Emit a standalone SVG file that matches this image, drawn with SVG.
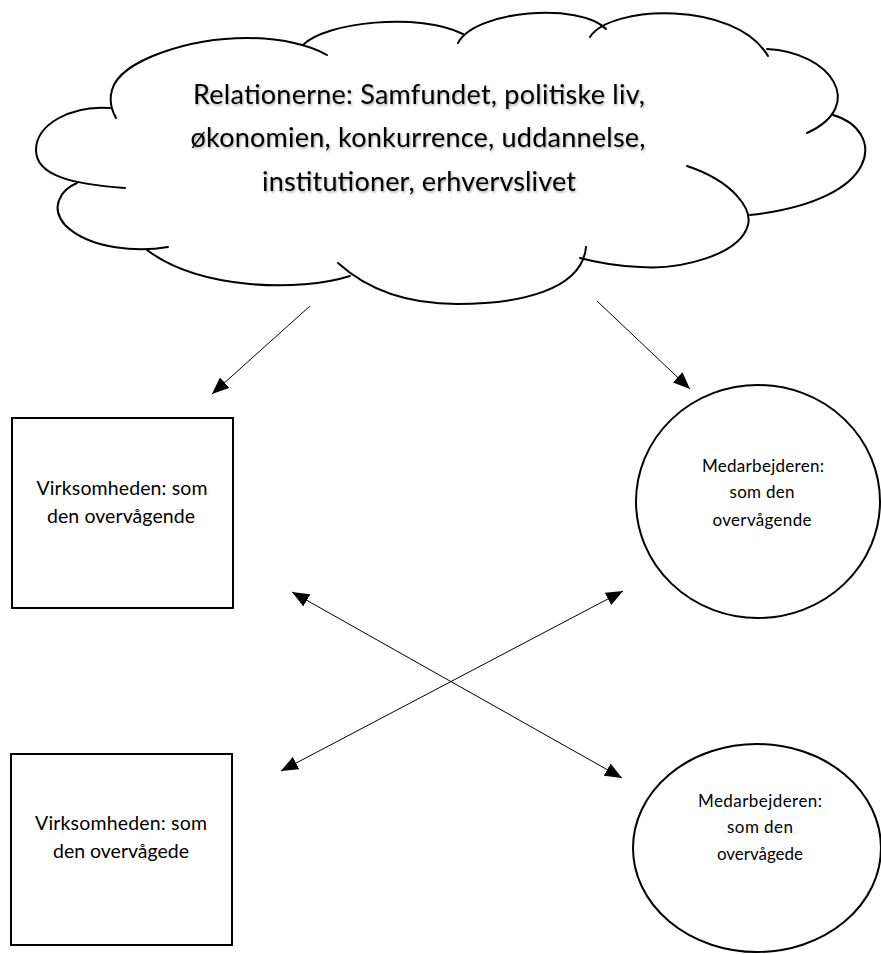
<svg xmlns="http://www.w3.org/2000/svg" width="881" height="954" viewBox="0 0 881 954">
<style>
.shape{fill:#fff;stroke:#000;stroke-width:2}
.lobe{fill:none;stroke:#000;stroke-width:2;stroke-linecap:round}
.conn{fill:none;stroke:#000;stroke-width:1}
.t{font-family:Lato,"Open Sans","Liberation Sans",sans-serif;fill:#000;text-anchor:middle}
.big{font-size:27px}
.mid{font-size:19.5px}
.sm{font-size:17px}
</style>
<defs>
<marker id="ah" viewBox="0 0 17 14" refX="17" refY="7" markerWidth="17" markerHeight="14" markerUnits="userSpaceOnUse" orient="auto-start-reverse">
<path d="M0,0 L17,7 L0,14 Z" fill="#000"/>
</marker>
<filter id="shadow" x="-10%" y="-30%" width="120%" height="160%">
<feDropShadow dx="1" dy="1.5" stdDeviation="1.2" flood-color="#000" flood-opacity="0.35"/>
</filter>
</defs>

<g id="cloud">
<path fill="#fff" stroke="none" d="M112,108 C120,60 190,38 247,38 C275,38 295,42 305,45 C325,22 420,12 463,35 C475,10 580,2 606,29 C610,5 735,0 767,49 C830,52 868,105 833,115 C885,130 885,200 750,215 C752,245 700,268 640,267 L586,262 C582,290 520,304 457,304 C410,304 370,292 350,276 C300,292 200,290 147,250 C120,252 80,250 65,225 C50,208 60,190 78,183 C50,178 36,170 36,150 C36,125 70,105 112,108 Z"/>
<path class="lobe" d="M116,118 Q108,104 112,90 C120,60 190,38 247,38 C280,38 310,45 327,55"/>
<path class="lobe" d="M303,45 C325,22 420,12 463,34"/>
<path class="lobe" d="M458,43 C475,10 580,2 606,29"/>
<path class="lobe" d="M590,37 C610,5 735,0 768,56"/>
<path class="lobe" d="M767,49 C830,52 868,105 807,133"/>
<path class="lobe" d="M833,115 C885,130 885,200 750,215"/>
<path class="lobe" d="M687,166 C735,182 752,210 748,225 C740,255 680,270 640,267 C615,266 595,262 580,258"/>
<path class="lobe" d="M586,247 C582,290 520,304 457,304 C410,304 370,292 338,263"/>
<path class="lobe" d="M350,276 C300,292 200,290 147,250"/>
<path class="lobe" d="M168,247 C140,252 90,250 65,225 C50,208 60,190 77,183"/>
<path class="lobe" d="M125,188 C70,184 36,175 36,150 C36,125 70,105 110,108"/>
<g filter="url(#shadow)">
<text class="t big" x="419" y="104" textLength="452">Relationerne: Samfundet, politiske liv,</text>
<text class="t big" x="418" y="147" textLength="455">økonomien, konkurrence, uddannelse,</text>
<text class="t big" x="419" y="191" textLength="314">institutioner, erhvervslivet</text>
</g>
</g>

<g id="virksomheden-overvaagende">
<rect class="shape" x="12" y="418" width="221" height="190"/>
<text class="t mid" x="122" y="495" textLength="171">Virksomheden: som</text>
<text class="t mid" x="121" y="523" textLength="148">den overvågende</text>
</g>

<g id="medarbejderen-overvaagende">
<ellipse class="shape" cx="758" cy="501.5" rx="122" ry="116.5"/>
<text class="t sm" x="763" y="472" textLength="122">Medarbejderen:</text>
<text class="t sm" x="762" y="498" textLength="65">som den</text>
<text class="t sm" x="762" y="526" textLength="99">overvågende</text>
</g>

<g id="virksomheden-overvaagede">
<rect class="shape" x="11" y="754" width="221" height="191"/>
<text class="t mid" x="121" y="830" textLength="172">Virksomheden: som</text>
<text class="t mid" x="121" y="858" textLength="136">den overvågede</text>
</g>

<g id="medarbejderen-overvaagede">
<ellipse class="shape" cx="757" cy="848" rx="124" ry="104"/>
<text class="t sm" x="760" y="807" textLength="124">Medarbejderen:</text>
<text class="t sm" x="760" y="833" textLength="66">som den</text>
<text class="t sm" x="760" y="860" textLength="86">overvågede</text>
</g>

<g id="connectors">
<line class="conn" x1="310" y1="306" x2="212" y2="394" marker-end="url(#ah)"/>
<line class="conn" x1="597" y1="301" x2="690" y2="389" marker-end="url(#ah)"/>
<line class="conn" x1="292" y1="592" x2="622" y2="778" marker-start="url(#ah)" marker-end="url(#ah)"/>
<line class="conn" x1="623" y1="591" x2="281" y2="771" marker-start="url(#ah)" marker-end="url(#ah)"/>
</g>
</svg>
